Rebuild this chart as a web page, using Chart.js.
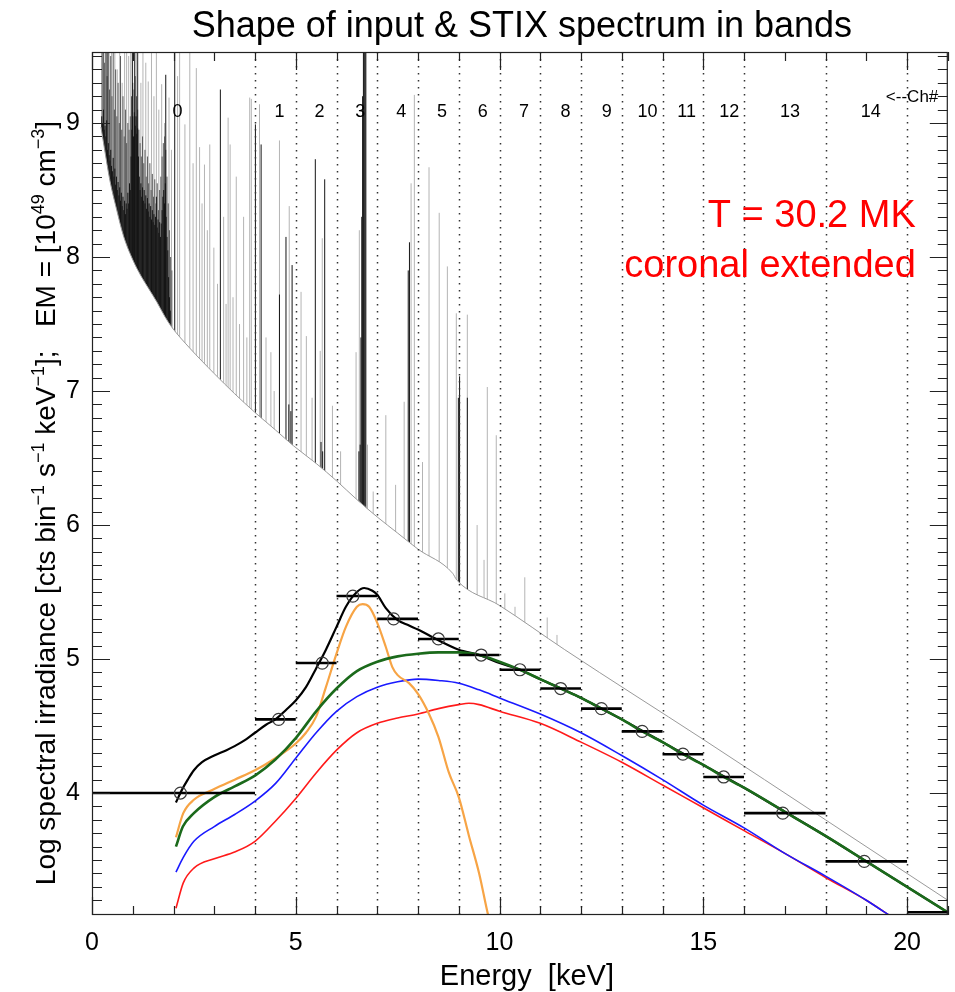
<!DOCTYPE html>
<html lang="en">
<head>
<meta charset="UTF-8">
<title>Shape of input & STIX spectrum in bands</title>
<script src="https://cdn.jsdelivr.net/npm/chart.js@4.4.1/dist/chart.umd.min.js"></script>
<style>
  body { margin: 0; background: #fff; }
  #wrap { width: 955px; height: 992px; position: relative; }
</style>
</head>
<body>
<div id="wrap"><canvas id="chart"></canvas></div>
<script>
// axis ranges and ticks
const xMin = 0, xMax = 21, yMin = 3.09, yMax = 9.53;
const xTickVals = [0, 5, 10, 15, 20];
const yTickVals = [4, 5, 6, 7, 8, 9];

// STIX energy bands (keV) and the band-averaged values
const bandEdges = [4, 5, 6, 7, 8, 9, 10, 11, 12, 13, 14, 15, 16, 18, 20];
const bandLo  = [0, 4, 5, 6, 7, 8, 9, 10, 11, 12, 13, 14, 15, 16, 18, 20];
const bandHi  = [4, 5, 6, 7, 8, 9, 10, 11, 12, 13, 14, 15, 16, 18, 20, 25];
const bandE   = [2.17, 4.58, 5.65, 6.4, 7.4, 8.5, 9.55, 10.5, 11.5, 12.5, 13.5, 14.5, 15.5, 16.95, 18.95, 22.3];
const bandVal = [4.00, 4.55, 4.97, 5.47, 5.30, 5.15, 5.03, 4.92, 4.78, 4.63, 4.46, 4.29, 4.12, 3.85, 3.49, 3.11];

// channel numbers written along the top
const chLabels = ['0','1','2','3','4','5','6','7','8','9','10','11','12','13','14'];
const chLabelE = [2.1, 4.6, 5.58, 6.58, 7.59, 8.59, 9.59, 10.6, 11.62, 12.63, 13.63, 14.59, 15.64, 17.13, 19.11];
const chLabelV = 9.08;

// input spectrum: continuum plus line spikes
const contE = [0.22, 0.3, 0.44, 0.6, 0.77, 1.0, 1.2, 1.4, 1.6, 1.8, 1.95, 2.4, 3.0, 3.5, 4.0, 4.5, 4.95, 5.5, 6.0, 6.5, 7.0, 7.5, 8.0, 8.85, 8.95, 10.0, 11.6, 15, 18, 21];
const contV = [8.97, 8.82, 8.57, 8.36, 8.16, 7.98, 7.86, 7.76, 7.66, 7.55, 7.48, 7.32, 7.13, 6.98, 6.84, 6.71, 6.59, 6.46, 6.33, 6.19, 6.06, 5.94, 5.82, 5.64, 5.59, 5.40, 5.07, 4.40, 3.80, 3.20];

const darkE = [0.24, 0.26, 0.28, 0.30, 0.32, 0.34, 0.36, 0.37, 0.38, 0.40, 0.42, 0.44, 0.46, 0.48, 0.50, 0.52, 0.54, 0.56, 0.58, 0.60,
               0.62, 0.64, 0.66, 0.68, 0.70, 0.72, 0.74, 0.76, 0.78, 0.80, 0.82, 0.84, 0.86, 0.88, 0.90, 0.92, 0.94, 0.96, 0.98, 0.99,
               1.00, 1.02, 1.04, 1.05, 1.06, 1.08, 1.10, 1.11, 1.12, 1.14, 1.16, 1.18, 1.20, 1.22, 1.24, 1.26, 1.28, 1.30, 1.32, 1.34,
               1.36, 1.38, 1.40, 1.42, 1.44, 1.46, 1.48, 1.50, 1.52, 1.54, 1.56, 1.58, 1.60, 1.62, 1.64, 1.66, 1.68, 1.70, 1.72, 1.74,
               1.76, 1.78, 1.80, 1.81, 1.82, 1.84, 1.86, 1.88, 1.90, 1.92, 2.03, 3.15, 4.01, 4.15, 4.60, 4.76, 4.83, 4.88, 4.91, 5.48,
               5.62, 5.66, 5.71, 6.55, 6.58, 6.60, 6.62, 6.64, 6.66, 6.68, 6.70, 6.72, 7.76, 7.79, 8.99, 9.02, 9.21];
const darkTop = [9.05, 9.00, 9.10, 8.95, 8.98, 8.90, 9.02, 9.60, 8.80, 8.85, 8.76, 8.72, 8.80, 8.68, 8.64, 8.74, 8.60, 8.66, 8.54, 8.60,
                 8.50, 8.56, 8.46, 8.52, 8.42, 8.48, 8.38, 8.45, 8.35, 8.42, 8.32, 8.40, 8.36, 8.48, 8.40, 8.55, 8.50, 8.75, 8.95, 9.60,
                 9.05, 8.90, 9.08, 9.60, 8.98, 9.05, 8.92, 9.60, 8.96, 8.75, 8.60, 8.50, 8.55, 8.45, 8.52, 8.42, 8.50, 8.40, 8.46, 8.36,
                 8.44, 8.34, 8.40, 8.30, 8.38, 8.28, 8.35, 8.26, 8.32, 8.24, 8.30, 8.45, 8.22, 8.28, 8.18, 8.26, 8.15, 8.25, 8.35, 8.45,
                 8.50, 8.40, 8.55, 9.36, 8.30, 8.15, 8.05, 7.85, 7.70, 7.60, 9.60, 9.25, 8.99, 8.84, 7.72, 8.15, 6.90, 6.85, 7.94, 8.73,
                 6.62, 6.55, 8.58, 6.55, 6.60, 7.40, 8.30, 9.20, 9.60, 9.60, 9.60, 9.60, 7.90, 8.11, 6.95, 7.11, 6.95];

const midE = [0.25, 0.28, 0.31, 0.34, 0.37, 0.40, 0.43, 0.46, 0.49, 0.52, 0.55, 0.58, 0.61, 0.64, 0.67, 0.70, 0.73, 0.76, 0.79, 0.82,
              0.85, 0.88, 0.91, 0.94, 0.97, 1.00, 1.03, 1.06, 1.09, 1.12, 1.15, 1.18, 1.21, 1.24, 1.27, 1.30, 1.33, 1.36, 1.39, 1.42,
              1.45, 1.48, 1.51, 1.54, 1.57, 1.60, 1.63, 1.66, 1.69, 1.72, 1.75, 1.78, 1.81, 1.84, 1.87, 1.90, 1.93, 1.96];
const midTop = [9.60, 9.60, 9.45, 9.60, 9.35, 9.60, 9.25, 9.50, 9.20, 9.60, 9.10, 9.40, 9.05, 9.30, 9.00, 9.50, 8.95, 9.20, 8.90, 9.10,
                8.85, 9.00, 8.95, 9.05, 9.20, 9.30, 9.25, 9.35, 9.20, 9.10, 8.95, 8.85, 8.75, 8.90, 8.70, 8.80, 8.60, 8.75, 8.55, 8.70,
                8.50, 8.62, 8.45, 8.58, 8.40, 8.55, 8.35, 8.50, 8.60, 8.75, 8.85, 8.90, 8.80, 8.60, 8.40, 8.20, 8.00, 7.90];

const lightE = [0.24, 0.32, 0.42, 0.48, 0.56, 0.62, 0.68, 0.74, 0.80, 0.85, 0.90, 0.95, 1.04, 1.13, 1.20, 1.25, 1.32, 1.38, 1.46, 1.52,
                1.58, 1.64, 1.71, 1.78, 1.89, 1.95, 2.10, 2.15, 2.28, 2.40, 2.48, 2.56, 2.64, 2.70, 2.76, 2.83, 2.89, 2.99, 3.08, 3.23,
                3.29, 3.34, 3.39, 3.46, 3.54, 3.62, 3.72, 3.80, 3.87, 3.91, 4.11, 4.27, 4.39, 4.47, 4.60, 4.84, 5.13, 5.26, 5.40, 5.60,
                5.65, 5.90, 6.10, 6.48, 6.56, 6.76, 6.90, 7.21, 7.45, 7.66, 7.83, 7.91, 8.11, 8.27, 8.52, 8.72, 8.94, 9.21, 9.45, 9.62,
                9.70, 9.92, 10.13, 10.38, 10.62, 11.17, 11.41];
const lightTop = [9.60, 9.60, 9.60, 9.60, 9.60, 9.40, 9.60, 9.30, 9.60, 9.60, 9.50, 9.60, 9.60, 9.60, 9.30, 9.60, 9.45, 9.31, 9.60, 9.20,
                  9.60, 9.10, 9.29, 9.00, 9.19, 8.80, 9.35, 9.60, 8.99, 9.60, 8.70, 9.41, 8.82, 8.40, 8.69, 8.20, 8.84, 8.07, 7.80, 8.30,
                  7.65, 9.04, 8.84, 7.70, 8.60, 7.50, 8.30, 7.40, 9.19, 9.18, 9.14, 7.40, 7.29, 7.00, 8.87, 8.38, 7.74, 7.41, 6.95, 7.30,
                  8.14, 6.89, 6.55, 7.29, 8.20, 6.60, 6.25, 6.82, 6.30, 6.92, 8.55, 9.21, 6.47, 8.67, 8.33, 7.93, 7.58, 7.57, 6.00, 5.74,
                  7.03, 6.67, 5.49, 5.39, 5.61, 5.31, 5.18];

// STIX count curves
const blackE = [2.06, 2.2, 2.35, 2.5, 2.7, 3.0, 3.3, 3.5, 3.78, 4.0, 4.27, 4.5, 4.76, 5.0, 5.25, 5.5, 5.74, 6.0, 6.23, 6.5, 6.68, 6.88, 7.0, 7.21, 7.5, 7.78, 8.0, 8.5, 9.0, 9.5, 10, 10.5, 11, 12, 13, 14, 15, 16, 17, 18, 19, 20, 21];
const blackV = [3.93, 4.02, 4.10, 4.17, 4.23, 4.28, 4.32, 4.35, 4.40, 4.45, 4.51, 4.55, 4.62, 4.69, 4.79, 4.93, 5.07, 5.24, 5.39, 5.50, 5.53, 5.51, 5.48, 5.38, 5.29, 5.25, 5.22, 5.14, 5.07, 5.03, 4.97, 4.92, 4.85, 4.71, 4.55, 4.38, 4.21, 4.04, 3.86, 3.68, 3.49, 3.30, 3.11];

const greenE = [2.06, 2.23, 2.5, 3.0, 3.5, 4.0, 4.5, 5.0, 5.5, 6.0, 6.5, 7.0, 7.5, 8.0, 8.5, 9.0, 9.5, 10, 10.5, 11, 11.5, 12, 12.5, 13, 13.5, 14, 14.5, 15, 15.5, 16, 17, 18, 19, 20, 21];
const greenV = [3.60, 3.75, 3.85, 3.97, 4.05, 4.13, 4.25, 4.41, 4.61, 4.78, 4.91, 4.98, 5.02, 5.04, 5.05, 5.05, 5.03, 4.98, 4.92, 4.85, 4.78, 4.71, 4.63, 4.55, 4.46, 4.38, 4.29, 4.21, 4.12, 4.04, 3.86, 3.68, 3.49, 3.30, 3.11];

const blueE = [2.06, 2.24, 2.5, 3.0, 3.5, 4.0, 4.5, 5.0, 5.5, 6.0, 6.5, 7.0, 7.5, 8.0, 8.5, 9.0, 9.5, 10, 11, 12, 13, 14, 15, 16, 17, 18, 19, 19.7];
const blueV = [3.41, 3.52, 3.64, 3.75, 3.84, 3.94, 4.07, 4.26, 4.45, 4.61, 4.72, 4.79, 4.83, 4.85, 4.84, 4.82, 4.77, 4.71, 4.59, 4.45, 4.28, 4.10, 3.91, 3.74, 3.55, 3.38, 3.20, 3.06];

const redE = [2.06, 2.24, 2.5, 3.0, 3.5, 4.0, 4.5, 5.0, 5.5, 6.0, 6.5, 7.0, 7.5, 8.0, 8.5, 9.0, 9.25, 9.5, 10, 11, 12, 13, 14, 15, 16, 17, 18, 19, 19.7];
const redV = [3.14, 3.33, 3.44, 3.51, 3.56, 3.64, 3.79, 3.96, 4.15, 4.32, 4.45, 4.52, 4.56, 4.59, 4.63, 4.66, 4.67, 4.66, 4.61, 4.52, 4.38, 4.23, 4.06, 3.89, 3.72, 3.55, 3.37, 3.20, 3.06];

const orangeE = [2.06, 2.24, 2.5, 3.0, 3.5, 4.0, 4.5, 5.0, 5.25, 5.5, 5.74, 6.0, 6.23, 6.5, 6.64, 6.8, 7.0, 7.21, 7.37, 7.5, 7.78, 8.0, 8.27, 8.5, 8.76, 9.0, 9.25, 9.5, 9.72, 9.8];
const orangeV = [3.67, 3.85, 3.95, 4.03, 4.10, 4.17, 4.26, 4.37, 4.45, 4.57, 4.79, 5.04, 5.24, 5.39, 5.41, 5.39, 5.27, 5.09, 4.94, 4.88, 4.82, 4.74, 4.59, 4.42, 4.15, 3.97, 3.68, 3.40, 3.09, 3.00];

const FONT = '"Liberation Sans", Arial, Helvetica, sans-serif';

function pts(xs, ys) { return xs.map((x, i) => ({x: x, y: ys[i]})); }

// vertical spikes from the bottom of the plot; the continuum fill hides the lower part
function spikes(xs, tops) {
    const d = [];
    xs.forEach((x, i) => { d.push({x: x, y: yMin}, {x: x, y: tops[i]}, {x: x, y: null}); });
    return d;
}

function bars() {
    const d = [];
    bandLo.forEach((lo, i) => { d.push({x: lo, y: bandVal[i]}, {x: bandHi[i], y: bandVal[i]}, {x: bandHi[i], y: null}); });
    return d;
}

function curve(label, xs, ys, color, width, order) {
    return { label: label, data: pts(xs, ys), borderColor: color, borderWidth: width,
             pointRadius: 0, cubicInterpolationMode: 'monotone', fill: false, order: order };
}

function spikeSet(label, xs, tops, color, order) {
    return { label: label, data: spikes(xs, tops), borderColor: color, borderWidth: 1, pointRadius: 0, tension: 0, order: order };
}

const idlPlugin = {
    id: 'idl',
    afterDatasetDraw(chart, args) {
        if (chart.data.datasets[args.index].label !== 'continuum') return;
        // dotted band boundaries
        const ctx = chart.ctx, xs = chart.scales.x, a = chart.chartArea;
        ctx.save();
        ctx.strokeStyle = '#333';
        ctx.lineWidth = 1.5;
        ctx.setLineDash([1.5, 5.5]);
        bandEdges.forEach(e => {
            const x = Math.round(xs.getPixelForValue(e)) + 0.5;
            ctx.beginPath(); ctx.moveTo(x, a.top); ctx.lineTo(x, a.bottom); ctx.stroke();
        });
        ctx.restore();
    },
    afterDatasetsDraw(chart) {
        const ctx = chart.ctx, xs = chart.scales.x, ys = chart.scales.y, a = chart.chartArea;
        ctx.save();
        ctx.strokeStyle = '#222';
        ctx.lineWidth = 1.2;
        ctx.strokeRect(a.left + 0.5, a.top + 0.5, a.right - a.left - 1, a.bottom - a.top - 1);
        ctx.beginPath();
        for (let e = 0; e <= 21; e++) {
            const x = Math.round(xs.getPixelForValue(e)) + 0.5;
            const len = e % 5 === 0 ? 18 : 9;
            ctx.moveTo(x, a.bottom); ctx.lineTo(x, a.bottom - len);
            ctx.moveTo(x, a.top); ctx.lineTo(x, a.top + len);
        }
        for (let i = 31; i <= 95; i++) {
            const y = Math.round(ys.getPixelForValue(i / 10)) + 0.5;
            const len = i % 10 === 0 ? 18 : 10;
            ctx.moveTo(a.left, y); ctx.lineTo(a.left + len, y);
            ctx.moveTo(a.right, y); ctx.lineTo(a.right - len, y);
        }
        ctx.stroke();
        ctx.restore();
    },
    afterDraw(chart) {
        const ctx = chart.ctx, xs = chart.scales.x, ys = chart.scales.y, a = chart.chartArea;
        ctx.save();
        ctx.fillStyle = '#000';

        ctx.font = '36px ' + FONT;
        ctx.textAlign = 'center';
        ctx.textBaseline = 'alphabetic';
        ctx.fillText('Shape of input & STIX spectrum in bands', (a.left + a.right) / 2 + 2, 37);

        ctx.font = '18px ' + FONT;
        ctx.textBaseline = 'middle';
        chLabels.forEach((t, i) => ctx.fillText(t, xs.getPixelForValue(chLabelE[i]), ys.getPixelForValue(chLabelV)));
        ctx.font = '17px ' + FONT;
        ctx.textAlign = 'left';
        ctx.fillText('<--Ch#', xs.getPixelForValue(19.48), ys.getPixelForValue(9.19));

        ctx.fillStyle = '#ff0000';
        ctx.font = '38px ' + FONT;
        ctx.textAlign = 'right';
        ctx.textBaseline = 'alphabetic';
        ctx.fillText('T = 30.2 MK', a.right - 32, 227);
        ctx.fillText('coronal extended', a.right - 32, 277);

        ctx.fillStyle = '#000';
        ctx.font = '29px ' + FONT;
        ctx.textAlign = 'center';
        ctx.fillText('Energy  [keV]', (a.left + a.right) / 2 + 7, 985);

        // rotated y title with superscripts
        const segs = [['Log spectral irradiance [cts bin', 0], ['\u22121', 1], [' s', 0], ['\u22121', 1], [' keV', 0], ['\u22121', 1],
                      ['];   EM = [10', 0], ['49', 1], [' cm', 0], ['\u22123', 1], [']', 0]];
        const big = '28px ' + FONT, small = '18px ' + FONT;
        let total = 0;
        segs.forEach(s => { ctx.font = s[1] ? small : big; total += ctx.measureText(s[0]).width; });
        ctx.translate(55, 503);
        ctx.rotate(-Math.PI / 2);
        ctx.textAlign = 'left';
        let pos = -total / 2;
        segs.forEach(s => {
            ctx.font = s[1] ? small : big;
            ctx.fillText(s[0], pos, s[1] ? -11 : 0);
            pos += ctx.measureText(s[0]).width;
        });
        ctx.restore();
    }
};

const datasets = [
    spikeSet('lines', lightE, lightTop, '#b4b4b4', 12),
    spikeSet('medium lines', midE, midTop, '#5a5a5a', 11),
    spikeSet('strong lines', darkE, darkTop, '#151515', 10),
    { label: 'continuum', data: pts(contE, contV), borderColor: '#9a9a9a', borderWidth: 1, pointRadius: 0,
      cubicInterpolationMode: 'monotone', fill: 'start', backgroundColor: '#ffffff', order: 9 },
    curve('red', redE, redV, '#ff1a1a', 1.6, 8),
    curve('blue', blueE, blueV, '#1a1aff', 1.6, 7),
    curve('orange', orangeE, orangeV, '#f7a445', 2.2, 6),
    curve('black', blackE, blackV, '#000000', 2.2, 5),
    curve('green', greenE, greenV, '#1b6a1b', 2.6, 4),
    { label: 'bands', data: bars(), borderColor: '#000', borderWidth: 2.6, pointRadius: 0, tension: 0, order: 3 },
    { label: 'band points', data: pts(bandE, bandVal), showLine: false, pointStyle: 'circle', pointRadius: 6,
      pointBorderWidth: 1.2, pointBorderColor: '#3a3a3a', pointBackgroundColor: 'rgba(0,0,0,0)', order: 2 }
];

new Chart(document.getElementById('chart'), {
    type: 'line',
    data: { datasets: datasets },
    options: {
        responsive: true,
        maintainAspectRatio: false,
        animation: false,
        events: [],
        layout: { padding: { top: 52, right: 5, left: 0, bottom: 0 } },
        plugins: { legend: { display: false }, tooltip: { enabled: false }, title: { display: false } },
        scales: {
            x: {
                type: 'linear', min: xMin, max: xMax,
                grid: { display: false }, border: { display: false },
                afterBuildTicks: s => { s.ticks = xTickVals.map(v => ({ value: v })); },
                afterFit: s => { s.height = 77; },
                ticks: { font: { family: FONT, size: 25 }, color: '#000', padding: 5, maxRotation: 0, autoSkip: false }
            },
            y: {
                type: 'linear', min: yMin, max: yMax,
                grid: { display: false }, border: { display: false },
                afterBuildTicks: s => { s.ticks = yTickVals.map(v => ({ value: v })); },
                afterFit: s => { s.width = 92; },
                ticks: { font: { family: FONT, size: 25 }, color: '#000', padding: 4, autoSkip: false }
            }
        }
    },
    plugins: [idlPlugin]
});
</script>
</body>
</html>
